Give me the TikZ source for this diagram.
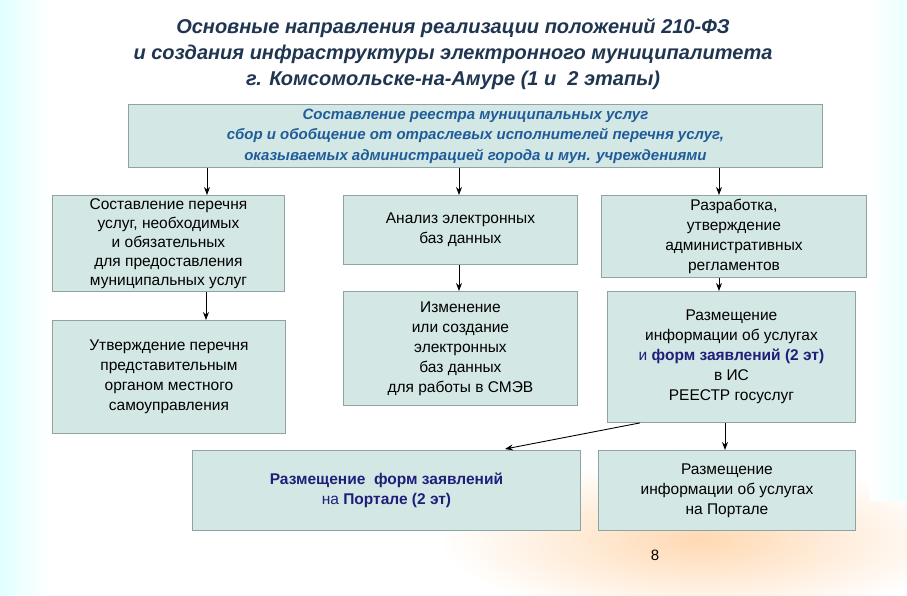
\documentclass[tikz,border=0pt]{standalone}
\usepackage{fontspec}
\setmainfont{Liberation Sans}
\usetikzlibrary{arrows.meta}
\definecolor{boxfill}{HTML}{D3E7E5}
\definecolor{boxline}{HTML}{8FA3A3}
\definecolor{ttl}{HTML}{1F3550}
\definecolor{topblue}{HTML}{1F5C99}
\definecolor{dblue}{HTML}{1F1F7A}
\tikzset{
  bx/.style={draw=boxline,fill=boxfill,line width=0.9pt,align=center,inner sep=2pt,font=\fontsize{15.5}{20}\selectfont},
  topbx/.style={bx,font=\fontsize{15}{20.5}\selectfont\bfseries\itshape,text=topblue},
  dbx/.style={bx,text=dblue},
  arr/.style={-{Stealth[length=8pt,width=6pt]},line width=0.9pt,black},
}
\newcommand{\boxat}[7]{\node[#7,minimum width=#4-#2,minimum height=#5-#3,anchor=north west] (#1) at (#2,#3) {#6};}
\begin{document}
\begin{tikzpicture}[x=1pt,y=-1pt]
\useasboundingbox (0,0) rectangle (907,595);
\fill[white] (0,0) rectangle (907,595);
\shade[left color=cyan!12,right color=white] (0,0) rectangle (50,595);
\shade[inner color=orange!30,outer color=white] (700,540) ellipse (260 and 80);
\shade[left color=white,right color=cyan!8] (870,0) rectangle (907,500);
\node[font=\fontsize{20}{26}\selectfont\bfseries\itshape,text=ttl,align=center] (title) at (453,54)
 {Основные направления реализации положений 210-ФЗ\\и создания инфраструктуры электронного муниципалитета\\г. Комсомольске-на-Амуре (1 и \ 2 этапы)};
\boxat{top}{128}{104}{822}{167}{Составление реестра муниципальных услуг\\сбор и обобщение от отраслевых исполнителей перечня услуг,\\оказываемых администрацией города и мун. учреждениями}{topbx}
\boxat{L1}{52}{195}{284}{291}{Составление перечня\\услуг, необходимых\\и обязательных\\для предоставления\\муниципальных услуг}{bx,font=\fontsize{15.5}{19}\selectfont}
\boxat{L2}{52}{320}{285}{433}{Утверждение перечня\\представительным\\органом местного\\самоуправления}{bx}
\boxat{M1}{343}{195}{577}{264}{Анализ электронных\\баз данных}{bx}
\boxat{M2}{343}{291}{577}{405}{Изменение\\или создание\\электронных\\баз данных\\для работы в СМЭВ}{bx}
\boxat{R1}{601}{195}{866}{277}{Разработка,\\утверждение\\административных\\регламентов}{bx}
\boxat{R2}{607}{291}{855}{422}{Размещение\\информации об услугах\\{\color{dblue}и \textbf{форм заявлений (2 эт)}}\\в ИС\\РЕЕСТР госуслуг}{bx}
\boxat{B1}{192}{450}{580}{530}{\textbf{Размещение \ форм заявлений}\\на \textbf{Портале (2 эт)}}{dbx}
\boxat{B2}{598}{450}{855}{530}{Размещение\\информации об услугах\\на Портале}{bx}
\draw[arr] (top.south -| 207,0) -- (L1.north -| 207,0);
\draw[arr] (top.south -| 459,0) -- (M1.north -| 459,0);
\draw[arr] (top.south -| 719,0) -- (R1.north -| 719,0);
\draw[arr] (L1.south -| 206,0) -- (L2.north -| 206,0);
\draw[arr] (M1.south -| 459,0) -- (M2.north -| 459,0);
\draw[arr] (R1.south -| 719,0) -- (R2.north -| 719,0);
\draw[arr] (R2.south -| 725,0) -- (B2.north -| 725,0);
\coordinate (dstart) at (R2.south -| 640,0);
\draw[arr] (dstart) -- (505,449);
\node[font=\fontsize{15}{18}\selectfont] (pg) at (655,555) {8};
\end{tikzpicture}
\end{document}
